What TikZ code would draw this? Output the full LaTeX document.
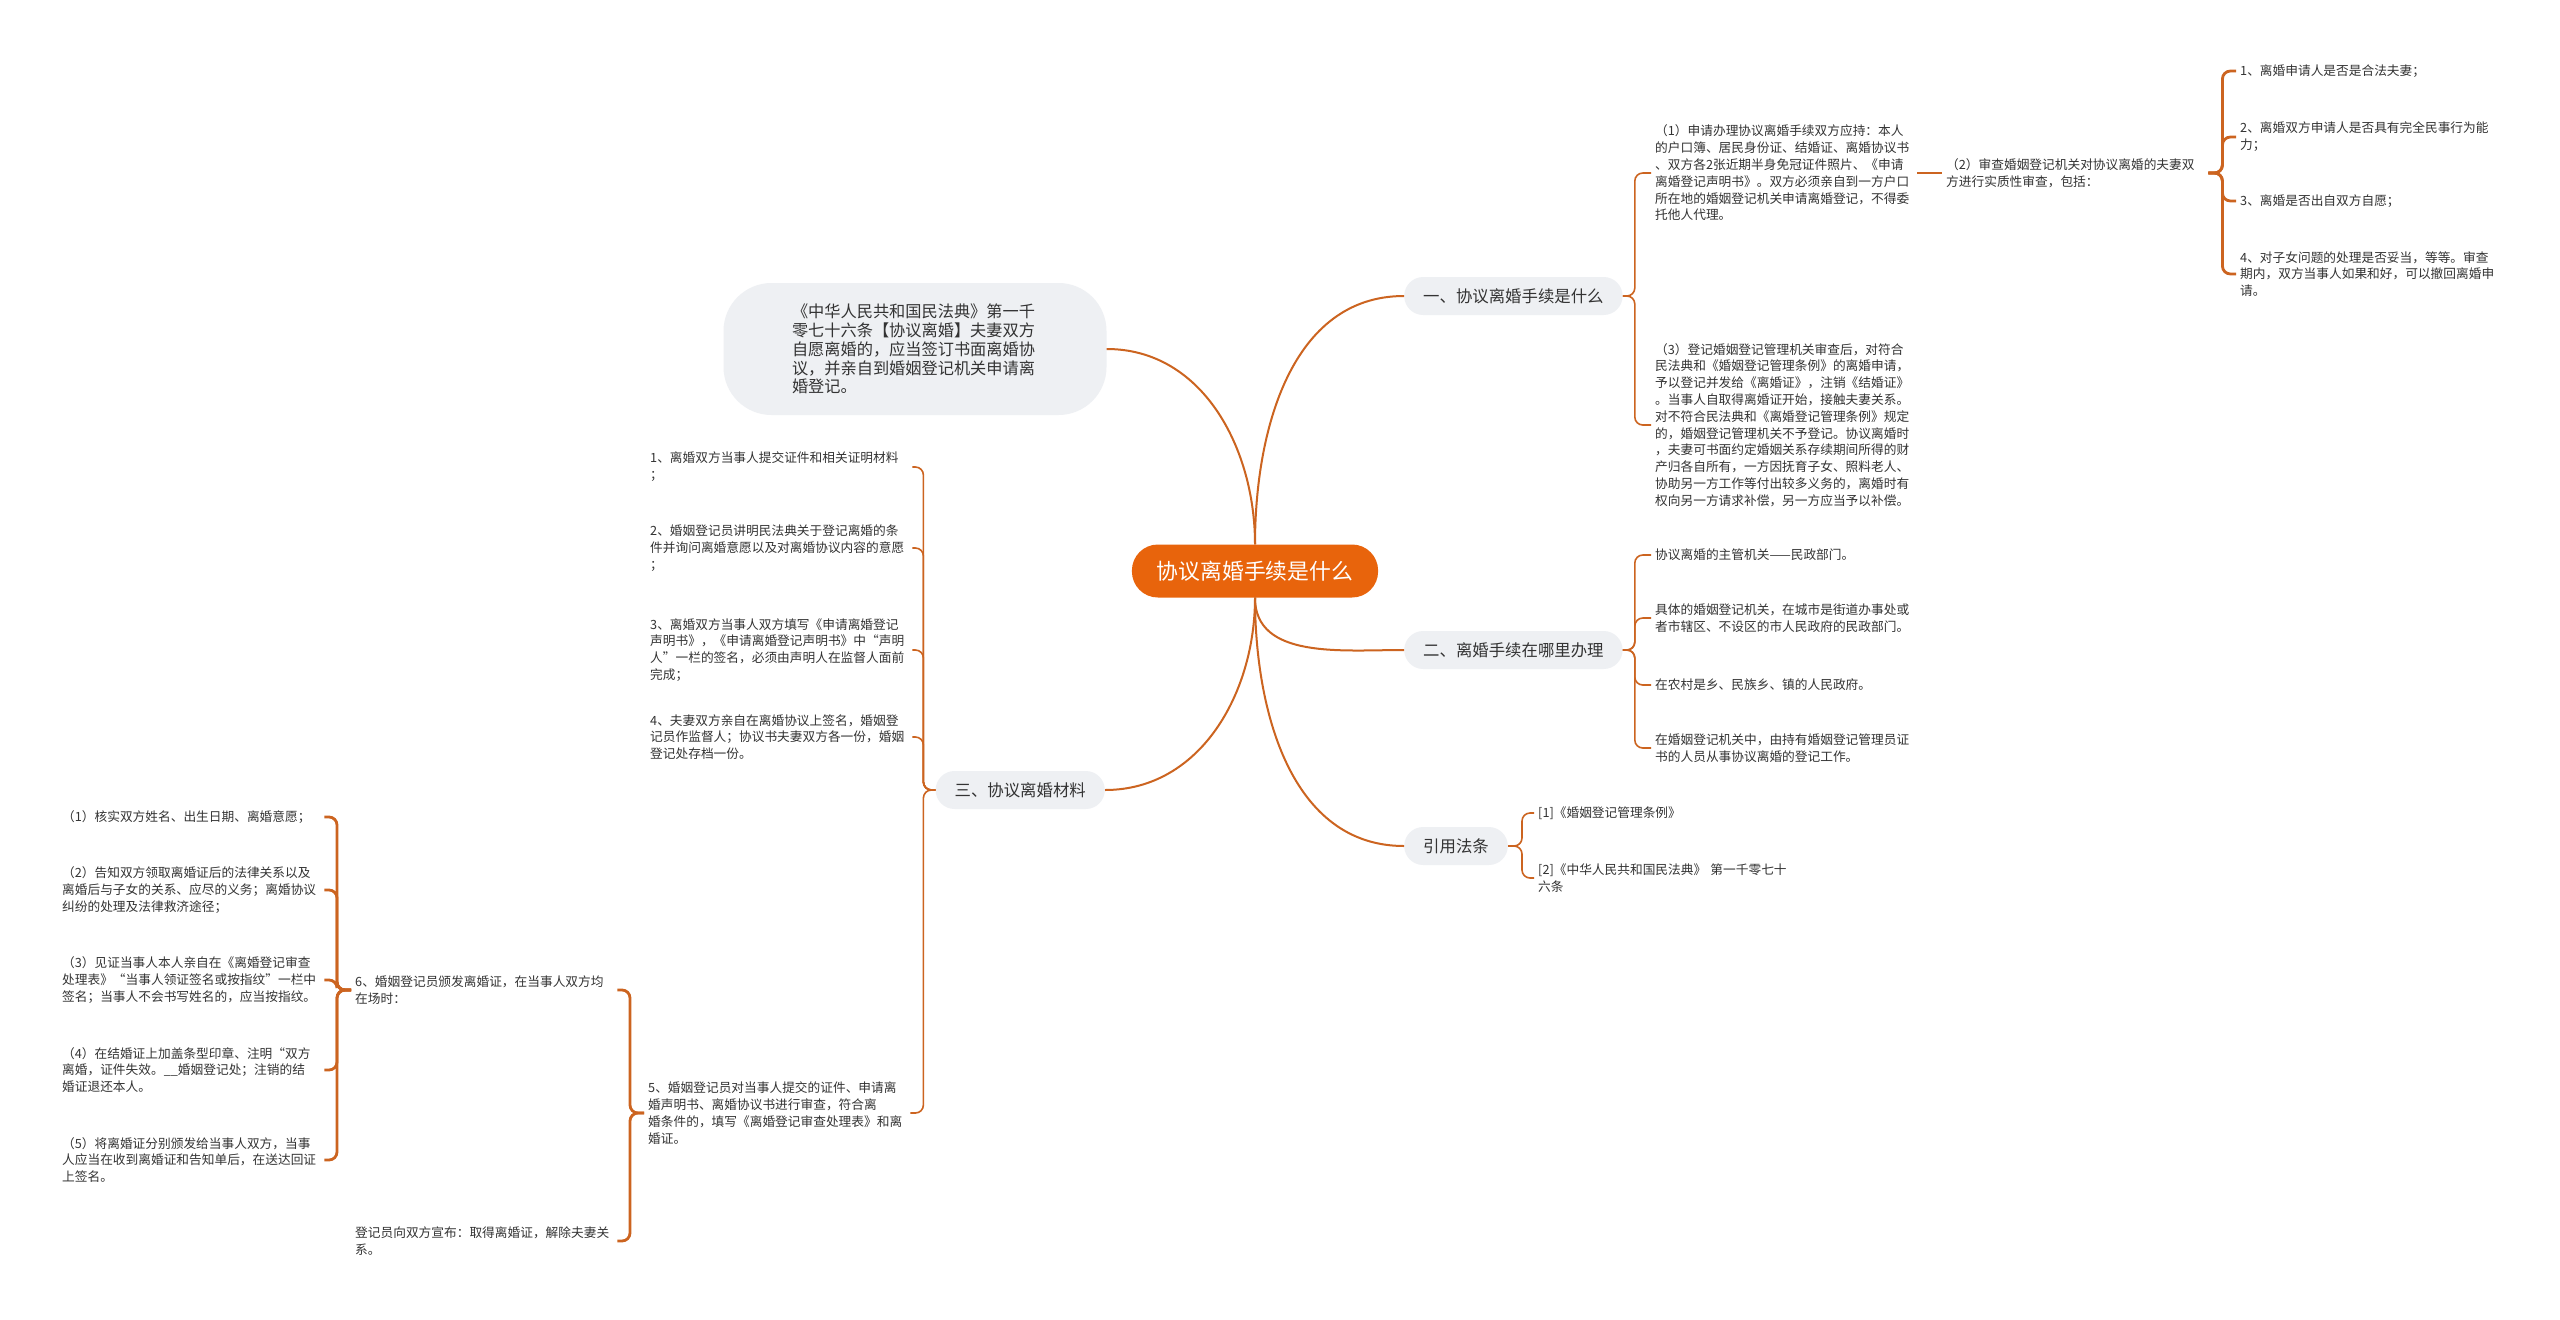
\documentclass[tikz,border=0pt]{standalone}
\usepackage{fontspec}
\setmainfont{Noto Sans CJK SC}
\definecolor{mainorange}{HTML}{E8640C}
\definecolor{linkorange}{HTML}{CC6420}
\definecolor{pillgray}{HTML}{EEF0F3}
\definecolor{inkgray}{HTML}{333333}

\begin{document}
\begin{tikzpicture}[
    x=1pt, y=-1pt,
    rootnode/.style={rectangle, fill=mainorange, rounded corners=26pt,
                text=white, font=\fontsize{21.8}{24}\selectfont,
                inner xsep=25pt, minimum height=53pt},
    branchnode/.style={rectangle, fill=pillgray, rounded corners=19pt,
                text=inkgray, font=\fontsize{16.4}{19}\selectfont,
                inner xsep=19pt, minimum height=38pt},
    bubblenode/.style={rectangle, fill=pillgray, rounded corners=48pt,
                text=inkgray, font=\fontsize{16.2}{18.8}\selectfont,
                text width=246pt, align=left,
                minimum width=383pt, minimum height=132pt},
    leafnode/.style={text=inkgray, font=\fontsize{12.7}{16.8}\selectfont,
                text width=258pt, align=left, inner sep=4pt},
    trunkline/.style={draw=linkorange, line width=2pt},
    twigline/.style={draw=linkorange, line width=1.6pt, rounded corners=8pt},
    braceline/.style={draw=linkorange, line width=2.8pt, rounded corners=8pt}
]
  \path[fill=white, use as bounding box] (0,0) rectangle (2560,1320);

  \node[rootnode] (root) at (1255,571) {协议离婚手续是什么};
  \node[branchnode, anchor=west] (proc)  at (1404,296) {一、协议离婚手续是什么};
  \node[branchnode, anchor=west] (place) at (1404,650) {二、离婚手续在哪里办理};
  \node[branchnode, anchor=west] (laws)  at (1404,846) {引用法条};
  \node[branchnode, anchor=east] (mats)  at (1105,790) {三、协议离婚材料};
  \node[bubblenode] (civil) at (915,349) {《中华人民共和国民法典》第一千\\零七十六条【协议离婚】夫妻双方\\自愿离婚的，应当签订书面离婚协\\议，并亲自到婚姻登记机关申请离\\婚登记。};

  % 一
  \node[leafnode, anchor=west] (apply) at (1651,173) {（1）申请办理协议离婚手续双方应持：本人\\的户口簿、居民身份证、结婚证、离婚协议书\\、双方各2张近期半身免冠证件照片、《申请\\离婚登记声明书》。双方必须亲自到一方户口\\所在地的婚姻登记机关申请离婚登记，不得委\\托他人代理。};
  \node[leafnode, anchor=west] (review) at (1942,173) {（2）审查婚姻登记机关对协议离婚的夫妻双\\方进行实质性审查，包括：};
  \node[leafnode, anchor=west] (chk1) at (2236,71)  {1、离婚申请人是否是合法夫妻；};
  \node[leafnode, anchor=west] (chk2) at (2236,137) {2、离婚双方申请人是否具有完全民事行为能\\力；};
  \node[leafnode, anchor=west] (chk3) at (2236,201) {3、离婚是否出自双方自愿；};
  \node[leafnode, anchor=west] (chk4) at (2236,274) {4、对子女问题的处理是否妥当，等等。审查\\期内，双方当事人如果和好，可以撤回离婚申\\请。};
  \node[leafnode, anchor=west] (register) at (1651,425) {（3）登记婚姻登记管理机关审查后，对符合\\民法典和《婚姻登记管理条例》的离婚申请，\\予以登记并发给《离婚证》，注销《结婚证》\\。当事人自取得离婚证开始，接触夫妻关系。\\对不符合民法典和《离婚登记管理条例》规定\\的，婚姻登记管理机关不予登记。协议离婚时\\，夫妻可书面约定婚姻关系存续期间所得的财\\产归各自所有，一方因抚育子女、照料老人、\\协助另一方工作等付出较多义务的，离婚时有\\权向另一方请求补偿，另一方应当予以补偿。};

  % 二
  \node[leafnode, anchor=west] (organ)    at (1651,555) {协议离婚的主管机关——民政部门。};
  \node[leafnode, anchor=west] (cityorg)  at (1651,618) {具体的婚姻登记机关，在城市是街道办事处或\\者市辖区、不设区的市人民政府的民政部门。};
  \node[leafnode, anchor=west] (ruralorg) at (1651,685) {在农村是乡、民族乡、镇的人民政府。};
  \node[leafnode, anchor=west] (clerk)    at (1651,748) {在婚姻登记机关中，由持有婚姻登记管理员证\\书的人员从事协议离婚的登记工作。};

  % 引用法条
  \node[leafnode, anchor=west] (law1) at (1534,813) {[1]《婚姻登记管理条例》};
  \node[leafnode, anchor=west] (law2) at (1534,878) {[2]《中华人民共和国民法典》 第一千零七十\\六条};

  % 三
  \node[leafnode, anchor=west] (mat1) at (646,467) {1、离婚双方当事人提交证件和相关证明材料\\；};
  \node[leafnode, anchor=west] (mat2) at (646,548) {2、婚姻登记员讲明民法典关于登记离婚的条\\件并询问离婚意愿以及对离婚协议内容的意愿\\；};
  \node[leafnode, anchor=west] (mat3) at (646,650) {3、离婚双方当事人双方填写《申请离婚登记\\声明书》，《申请离婚登记声明书》中“声明\\人”一栏的签名，必须由声明人在监督人面前\\完成；};
  \node[leafnode, anchor=west] (mat4) at (646,737) {4、夫妻双方亲自在离婚协议上签名，婚姻登\\记员作监督人；协议书夫妻双方各一份，婚姻\\登记处存档一份。};
  \node[leafnode, anchor=west] (mat5) at (644,1113) {5、婚姻登记员对当事人提交的证件、申请离\\婚声明书、离婚协议书进行审查，符合离\\婚条件的，填写《离婚登记审查处理表》和离\\婚证。};
  \node[leafnode, anchor=west] (issue)    at (351,990)  {6、婚姻登记员颁发离婚证，在当事人双方均\\在场时：};
  \node[leafnode, anchor=west] (announce) at (351,1241) {登记员向双方宣布：取得离婚证，解除夫妻关\\系。};
  \node[leafnode, anchor=west] (act1) at (58,817)  {（1）核实双方姓名、出生日期、离婚意愿；};
  \node[leafnode, anchor=west] (act2) at (58,890)  {（2）告知双方领取离婚证后的法律关系以及\\离婚后与子女的关系、应尽的义务；离婚协议\\纠纷的处理及法律救济途径；};
  \node[leafnode, anchor=west] (act3) at (58,980)  {（3）见证当事人本人亲自在《离婚登记审查\\处理表》“当事人领证签名或按指纹”一栏中\\签名；当事人不会书写姓名的，应当按指纹。};
  \node[leafnode, anchor=west] (act4) at (58,1070) {（4）在结婚证上加盖条型印章、注明“双方\\离婚，证件失效。\_\_婚姻登记处；注销的结\\婚证退还本人。};
  \node[leafnode, anchor=west] (act5) at (58,1160) {（5）将离婚证分别颁发给当事人双方，当事\\人应当在收到离婚证和告知单后，在送达回证\\上签名。};

  \draw[trunkline] (root.north) to[out=90, in=180] (proc.west);
  \draw[trunkline] (root.north) to[out=90, in=0] (civil.east);
  \draw[trunkline] (root.south) to[out=-90, in=180] (place.west);
  \draw[trunkline] (root.south) to[out=-90, in=180] (laws.west);
  \draw[trunkline] (root.south) to[out=-90, in=0] (mats.east);

  \foreach \kid in {apply, register}
    \draw[twigline] (proc.east) -- ++(12,0) |- (\kid.west);
  \draw[braceline] (apply.east) -- (review.west);
  \foreach \kid in {chk1, chk2, chk3, chk4}
    \draw[braceline] (review.east) -- ++(14,0) |- (\kid.west);

  \foreach \kid in {organ, cityorg, ruralorg, clerk}
    \draw[twigline] (place.east) -- ++(12,0) |- (\kid.west);

  \foreach \kid in {law1, law2}
    \draw[twigline] (laws.east) -- ++(14,0) |- (\kid.west);

  \foreach \kid in {mat1, mat2, mat3, mat4, mat5}
    \draw[twigline] (mats.west) -- ++(-12,0) |- (\kid.east);
  \foreach \kid in {issue, announce}
    \draw[braceline] (mat5.west) -- ++(-14,0) |- (\kid.east);
  \foreach \kid in {act1, act2, act3, act4, act5}
    \draw[braceline] (issue.west) -- ++(-14,0) |- (\kid.east);
\end{tikzpicture}
\end{document}
